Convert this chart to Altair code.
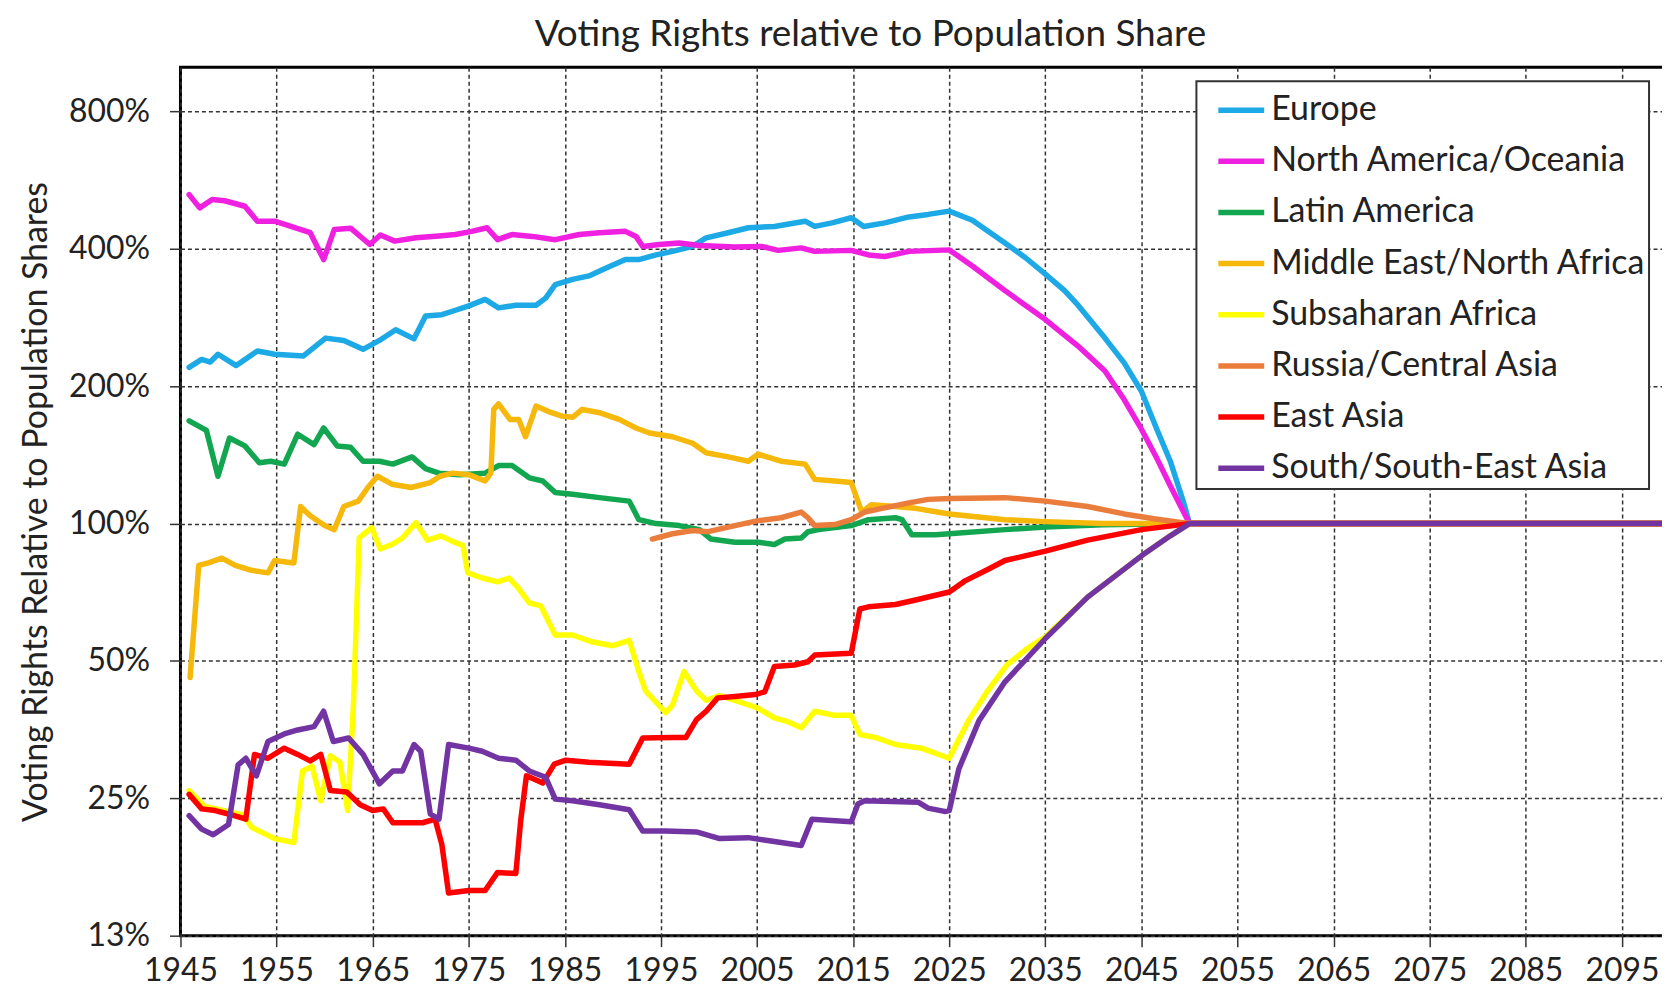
import altair as alt
import pandas as pd

REGIONS = ["Europe", "North America/Oceania", "Latin America", "Middle East/North Africa",
           "Subsaharan Africa", "Russia/Central Asia", "East Asia", "South/South-East Asia"]
COLORS = ["#1CA9E6", "#F020E0", "#12A650", "#F5B80B", "#FFFF00", "#EB7D3C", "#FF0000", "#7334A3"]

X_TICKS = list(range(1945, 2100, 10))
Y_TICKS = [12.5, 25, 50, 100, 200, 400, 800]

# (year, voting rights relative to population share, in %)
EUROPE = [(1945.9, 220), (1947.2, 229), (1948.1, 226), (1948.9, 235), (1950.8, 222), (1953, 239),
          (1954.8, 235), (1957.8, 233), (1960.1, 255), (1962, 252), (1964, 241), (1965.7, 252),
          (1967.4, 266), (1969.3, 254), (1970.5, 285), (1972.2, 287), (1973.3, 292), (1975, 300),
          (1976.7, 310), (1978.1, 297), (1979.9, 301), (1982, 301), (1983, 312), (1984, 334),
          (1985.8, 343), (1987.5, 349), (1989.3, 363), (1991.3, 379), (1992.7, 379), (1994.5, 388),
          (1996.2, 395), (1998.3, 405), (1999.7, 423), (2002, 434), (2004.1, 445), (2006.8, 448),
          (2010, 460), (2011, 448), (2012.8, 456), (2014.8, 468), (2016.1, 448), (2018.3, 456),
          (2020.8, 470), (2022.8, 476), (2025, 484), (2027.4, 462), (2030.8, 412), (2032.9, 383),
          (2035, 352), (2037, 324), (2038.4, 301), (2041.2, 255), (2043.2, 225), (2045, 195),
          (2046.6, 161), (2048, 137), (2049.4, 111), (2050, 100), (2100, 100)]

NORTH_AMERICA = [(1945.9, 526), (1947, 492), (1948.3, 513), (1949.6, 510), (1951.7, 496), (1953, 460),
                 (1954.8, 460), (1956.5, 448), (1958.5, 434), (1959.9, 379), (1961, 441), (1962.7, 444),
                 (1964.7, 409), (1965.8, 429), (1967.3, 416), (1969.5, 423), (1971.9, 427), (1973.6, 430),
                 (1975.3, 437), (1976.9, 445), (1978, 419), (1979.5, 430), (1981.6, 426), (1984, 419),
                 (1986.5, 430), (1988.6, 434), (1991.3, 437), (1992.4, 426), (1993.1, 405), (1994.8, 409),
                 (1996.9, 412), (1999, 407), (2002.7, 404), (2005.5, 405), (2007.2, 397), (2009.6, 402),
                 (2011, 395), (2014.8, 397), (2016.6, 388), (2018.3, 385), (2020.8, 395), (2025, 398),
                 (2027.4, 367), (2030.8, 324), (2035, 280), (2038.4, 245), (2041.2, 216), (2043.2, 187),
                 (2045, 161), (2046.6, 139), (2048, 121), (2050, 100), (2100, 100)]

LATIN_AMERICA = [(1945.9, 168), (1947.7, 160), (1948.9, 127), (1950.1, 154), (1951.7, 148), (1953.2, 136),
                 (1954.4, 137), (1955.8, 135), (1957.2, 157), (1958.9, 149), (1959.9, 162), (1961.3, 148),
                 (1962.7, 147), (1964, 137), (1965.7, 137), (1967.1, 135), (1969.1, 140), (1970.5, 132),
                 (1971.9, 129), (1974, 128), (1976.7, 129), (1978.1, 134), (1979.5, 134), (1981.3, 126),
                 (1982.7, 124), (1984, 117), (1985.8, 116), (1988.6, 114), (1991.7, 112), (1992.7, 102),
                 (1994.5, 100), (1996.9, 99), (1999, 97), (2000.2, 92.5), (2002.7, 91), (2005.1, 91),
                 (2006.8, 90), (2007.9, 92.5), (2009.6, 93), (2010.3, 96), (2011.4, 97), (2014.8, 99),
                 (2016.6, 102), (2019.4, 103), (2020.1, 102), (2021.1, 94.5), (2023.6, 94.5), (2025, 95),
                 (2030.8, 97), (2035, 98.3), (2041, 99.4), (2050, 100), (2100, 100)]

MIDDLE_EAST = [(1946, 46), (1946.9, 81), (1947.9, 82), (1949.3, 84), (1950.7, 81), (1952.4, 79),
               (1954.1, 78), (1954.8, 83), (1956.8, 82), (1957.5, 109), (1958.5, 104), (1960, 99),
               (1961, 97), (1962, 109), (1963.5, 112), (1964.5, 120), (1965.5, 127), (1967, 122),
               (1969, 120), (1971, 123), (1972, 127), (1973.3, 129), (1975, 128), (1976.7, 124),
               (1977.3, 129), (1977.6, 178), (1978.1, 183), (1979.3, 169), (1980.2, 169), (1980.9, 155),
               (1982, 181), (1983.3, 176), (1984.7, 172), (1985.8, 171), (1986.8, 178), (1988.6, 175),
               (1990.7, 169), (1992.4, 162), (1993.8, 158), (1996.2, 155), (1998.3, 150), (1999.7, 143),
               (2002, 140), (2004.1, 137), (2005.1, 142), (2007.5, 137), (2010, 135), (2011, 125),
               (2013.1, 124), (2014.8, 123), (2015.9, 106), (2016.9, 110), (2019.4, 109), (2021.5, 108),
               (2025, 105), (2030.8, 102), (2035, 101), (2041, 100), (2050, 100), (2100, 100)]

SUBSAHARAN = [(1945.9, 26), (1947.5, 24), (1949.5, 23.5), (1951.5, 23), (1952.4, 21.6), (1954.8, 20.4),
              (1956.8, 20), (1957.7, 28.7), (1958.7, 29.4), (1959.6, 24.7), (1960.6, 31), (1961.6, 30),
              (1962.4, 23.5), (1963.0, 40), (1963.6, 93), (1964.9, 98), (1965.8, 88), (1967, 90),
              (1968.1, 93), (1969.5, 100.5), (1970.7, 92), (1972.1, 94), (1973.5, 91), (1974.4, 89.6),
              (1974.9, 78), (1976.4, 76), (1978, 74.5), (1979.2, 76), (1980.2, 72), (1981.3, 67),
              (1982.5, 66), (1984, 57), (1985.8, 57), (1987.9, 55), (1990, 54), (1991.7, 55.5),
              (1992.7, 47.4), (1993.4, 43), (1995.5, 38.5), (1996.2, 40), (1997.4, 47.4), (1998.7, 43),
              (1999.7, 41), (2001.1, 42), (2003.4, 40.5), (2005.1, 39.4), (2006.8, 37.5), (2008.2, 36.8),
              (2009.6, 35.7), (2011, 38.8), (2013.1, 38), (2014.8, 38), (2015.7, 34.5), (2017.3, 34),
              (2019.4, 32.8), (2022.1, 32.2), (2025, 30.6), (2027, 37), (2029, 43), (2031, 49),
              (2033, 53), (2035, 56.5), (2039.4, 69), (2045, 85), (2048, 94), (2050, 100), (2100, 100)]

RUSSIA = [(1994.1, 92.5), (1996.2, 95), (1998.3, 96.6), (1999.9, 96), (2002.7, 99), (2005.1, 101.5),
          (2007.5, 103), (2009.6, 106), (2010.3, 103), (2011, 99), (2013.1, 99.5), (2014.8, 102),
          (2016.2, 106), (2018, 108), (2020.8, 111), (2022.8, 113), (2025, 113.5), (2030.8, 114),
          (2035, 112), (2039.4, 109), (2043.2, 105), (2046.3, 102.5), (2050, 100), (2100, 100)]

EAST_ASIA = [(1945.9, 25.5), (1947.2, 23.7), (1948.6, 23.5), (1950, 23.1), (1951.8, 22.5), (1952.7, 31.2),
             (1954.1, 30.6), (1955.8, 32.2), (1957.2, 31.2), (1958.5, 30.2), (1959.6, 31.2), (1960.6, 26),
             (1962.3, 25.8), (1963.7, 24.2), (1965, 23.5), (1966.1, 23.7), (1967.1, 22.1), (1970.2, 22.1),
             (1971.5, 22.5), (1972.2, 19.8), (1972.9, 15.5), (1975, 15.7), (1976.7, 15.7), (1978, 17.2),
             (1979.9, 17.1), (1980.4, 22.3), (1981, 28), (1982.7, 27), (1983.9, 29.7), (1985.1, 30.3),
             (1987.5, 30), (1991.7, 29.7), (1993.1, 33.9), (1996.2, 34), (1997.6, 34), (1998.7, 37.2),
             (1999.7, 38.8), (2000.9, 41.5), (2002.7, 41.8), (2004.8, 42.2), (2005.8, 42.8), (2006.8, 48.6),
             (2008.9, 49), (2010.3, 49.8), (2011, 51.5), (2014.8, 52), (2015.7, 65), (2016.6, 65.7),
             (2019.4, 66.5), (2021.5, 68), (2025, 70.8), (2026.7, 75), (2029.1, 79.5), (2030.8, 83),
             (2035, 87), (2039.4, 92), (2045, 97), (2050, 100), (2100, 100)]

SOUTH_ASIA = [(1945.9, 22.9), (1947.2, 21.4), (1948.4, 20.8), (1950, 21.9), (1951, 29.6), (1951.8, 30.6),
              (1952.9, 28), (1954.1, 33.3), (1955.8, 34.6), (1957.2, 35.3), (1958.9, 35.9), (1959.9, 38.8),
              (1960.9, 33.3), (1962.5, 33.9), (1964, 31.2), (1965.7, 26.9), (1967.1, 28.7), (1968.1, 28.7),
              (1969.3, 32.8), (1970, 31.7), (1971, 23.1), (1971.9, 22.5), (1972.9, 32.8), (1975, 32.2),
              (1976.4, 31.7), (1978.1, 30.6), (1979.9, 30.3), (1981.3, 28.7), (1983, 27.8), (1984, 24.9),
              (1985.8, 24.7), (1988.6, 24.2), (1991.7, 23.6), (1993.1, 21.2), (1995.5, 21.2), (1998.7, 21.1),
              (2001.1, 20.4), (2004.1, 20.5), (2006.1, 20.2), (2009.6, 19.7), (2010.7, 22.5), (2014.8, 22.2),
              (2015.5, 24.3), (2016.2, 24.7), (2021.8, 24.5), (2022.8, 23.8), (2024.5, 23.4), (2025, 23.5),
              (2026, 29), (2028.1, 37), (2030.8, 45), (2035, 56), (2039.4, 69), (2045, 85), (2048, 94),
              (2050, 100), (2100, 100)]

SERIES = [EUROPE, NORTH_AMERICA, LATIN_AMERICA, MIDDLE_EAST, SUBSAHARAN, RUSSIA, EAST_ASIA, SOUTH_ASIA]

rows = []
for region, pts in zip(REGIONS, SERIES):
    for yr, v in pts:
        rows.append({"region": region, "year": yr, "value": v})
df = pd.DataFrame(rows)

FONT = "Lato"

color = alt.Color(
    "region:N",
    scale=alt.Scale(domain=REGIONS, range=COLORS),
    legend=alt.Legend(
        title=None, orient="none", legendX=1019, legendY=14, direction="vertical",
        symbolType="stroke", symbolStrokeWidth=5.5, symbolSize=2116, symbolOffset=16,
        labelFont=FONT, labelFontSize=34, labelColor="#222", labelLimit=800, labelOffset=4,
        rowPadding=8.3, padding=3, fillColor="white", strokeColor="#333",
        cornerRadius=0,
    ),
)

x = alt.X("year:Q", scale=alt.Scale(domain=[1945, 2100], nice=False, zero=False),
          axis=alt.Axis(values=X_TICKS, format="d", title=None, labelPadding=9,
                        labelOverlap=False, labelFlush=False))
y = alt.Y("value:Q", scale=alt.Scale(type="log", base=2, domain=[12.5, 1000], nice=False),
          axis=alt.Axis(values=Y_TICKS, labelExpr="round(datum.value) + '%'",
                        title="Voting Rights Relative to Population Shares",
                        labelPadding=20, titlePadding=15, labelOverlap=False))

layers = []
for r in REGIONS:
    layers.append(
        alt.Chart(df).transform_filter(alt.datum.region == r)
        .mark_line(strokeWidth=5.5, strokeJoin="round", strokeCap="round")
        .encode(x=x, y=y, color=color, order="year:Q")
    )

chart = alt.layer(*layers).properties(
    width=1494, height=871,
    padding={"left": 173, "top": 58, "right": -8, "bottom": 52},
    autosize=alt.AutoSizeParams(type="none"),
    background="white",
    title=alt.TitleParams(
        text="Voting Rights relative to Population Share", font=FONT, fontSize=37,
        fontWeight="normal", color="#222", anchor="middle", frame="group", dx=-55, offset=13,
    ),
).configure_view(
    stroke="#000", strokeWidth=3
).configure_axis(
    labelFont=FONT, labelFontSize=32, labelColor="#222",
    titleFont=FONT, titleFontSize=34, titleFontWeight="normal", titleColor="#222",
    grid=True, gridColor="#333", gridDash=[4, 3], gridWidth=1.5, gridOpacity=1,
    domain=False, tickColor="#333", tickSize=11, tickWidth=1.5,
).configure_legend(
    strokeWidth=2
)

chart.save("out.html", embed_options={"renderer": "svg", "actions": False})
